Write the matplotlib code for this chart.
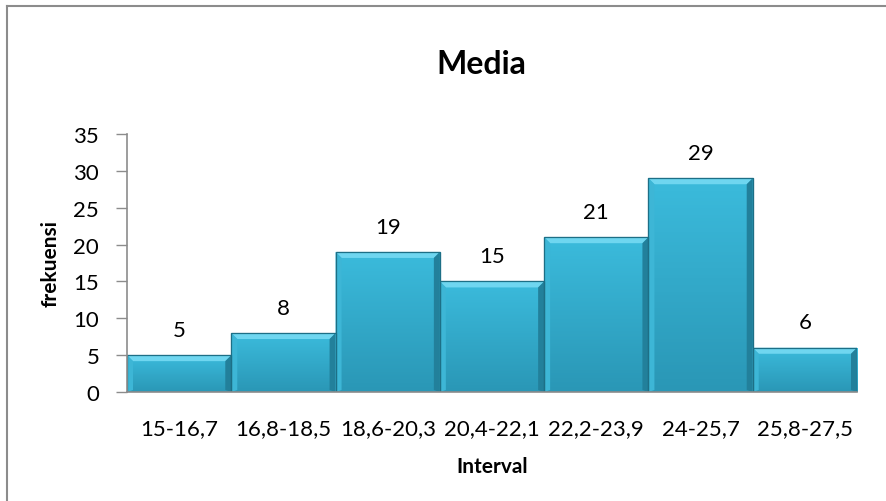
import numpy as np
import matplotlib
matplotlib.use("Agg")
import matplotlib.pyplot as plt
from matplotlib.patches import Polygon, Rectangle
from matplotlib.colors import LinearSegmentedColormap

categories = ["15-16,7", "16,8-18,5", "18,6-20,3", "20,4-22,1",
              "22,2-23,9", "24-25,7", "25,8-27,5"]
frekuensi = [5, 8, 19, 15, 21, 29, 6]
y_ticks = [0, 5, 10, 15, 20, 25, 30, 35]

plt.rcParams["font.family"] = ["Lato", "DejaVu Sans"]

W, H = 887, 502
fig = plt.figure(figsize=(W / 100, H / 100), dpi=100)
ax = fig.add_axes([127 / W, 1 - 393 / H, (857 - 127) / W, (393 - 135) / H])

x = np.arange(len(categories))
bars = ax.bar(x, frekuensi, width=1.0, color="#33acd0",
              edgecolor="#1f7f99", linewidth=0.8, zorder=2)

ax.set_xlim(-0.5, len(categories) - 0.5)
ax.set_ylim(0, 35)
ax.set_yticks(y_ticks)
ax.set_xticks(x)
ax.set_xticklabels(categories, fontsize=16)
ax.tick_params(axis="x", length=0, pad=19)
ax.tick_params(axis="y", length=8, width=1, color="#8c8c8c", pad=12, labelsize=16)

for side in ("top", "right"):
    ax.spines[side].set_visible(False)
for side in ("left", "bottom"):
    ax.spines[side].set_color("#8c8c8c")
    ax.spines[side].set_linewidth(1.2)

ax.set_xlabel("Interval", fontsize=15, fontweight="bold", labelpad=13)
ax.set_ylabel("frekuensi", fontsize=15, fontweight="bold", labelpad=9)
ax.set_title("Media", fontsize=23, fontweight="bold", pad=44, x=0.485)

# bevelled bar faces
fig.canvas.draw()
grad = LinearSegmentedColormap.from_list("face", ["#2a97b6", "#3bbbdc"])
inv = ax.transData.inverted()
bev = 6  # bevel width in pixels
for rect, val in zip(bars.patches, frekuensi):
    x0, y0 = rect.get_x(), rect.get_y()
    x1, y1 = x0 + rect.get_width(), y0 + rect.get_height()
    img = np.linspace(0, 1, 64).reshape(-1, 1)
    im = ax.imshow(img, cmap=grad, origin="lower", aspect="auto",
                   extent=(x0, x1, y0, y1), zorder=2.1)
    im.set_clip_path(rect)
    (px0, py0), (px1, py1) = ax.transData.transform([(x0, y0), (x1, y1)])
    def d(px, py):
        return inv.transform((px, py))
    top = [d(px0, py1), d(px1, py1), d(px1 - bev, py1 - bev), d(px0 + bev, py1 - bev)]
    left = [d(px0, py0), d(px0, py1), d(px0 + bev, py1 - bev), d(px0 + bev, py0 + 2)]
    right = [d(px1, py0), d(px1, py1), d(px1 - bev, py1 - bev), d(px1 - bev, py0 + 2)]
    ax.add_patch(Polygon(top, closed=True, facecolor="#6fd6f0", edgecolor="none", zorder=2.2))
    ax.add_patch(Polygon(left, closed=True, facecolor="#3db6d6", edgecolor="none", zorder=2.2))
    ax.add_patch(Polygon(right, closed=True, facecolor="#22809b", edgecolor="none", zorder=2.2))
    ax.add_patch(Rectangle((x0, y0), x1 - x0, y1 - y0, facecolor="none",
                           edgecolor="#1d6f86", linewidth=0.9, zorder=2.3))
    ax.annotate(str(val), (rect.get_x() + rect.get_width() / 2, val),
                xytext=(0, 11), textcoords="offset points", ha="center",
                va="bottom", fontsize=16)

# chart-area border
fig.add_artist(plt.Line2D([7 / W, 7 / W], [0, 1 - 7 / H], transform=fig.transFigure,
                          color="#8c8c8c", linewidth=1.5))
fig.add_artist(plt.Line2D([7 / W, 1], [1 - 7 / H, 1 - 7 / H], transform=fig.transFigure,
                          color="#8c8c8c", linewidth=1.5))

fig.savefig("out.png", dpi=100)
